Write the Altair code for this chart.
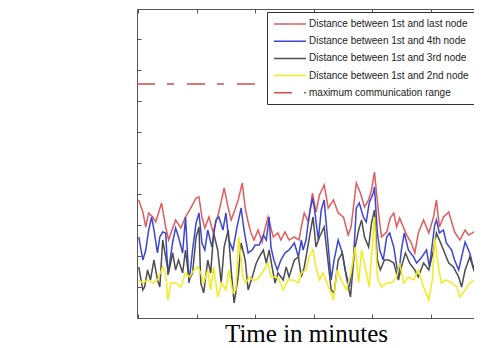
import altair as alt
import pandas as pd

# ---- data (time in minutes, distance in m) ----
series = [
    "Distance between 1st and last node",
    "Distance between 1st and 4th node",
    "Distance between 1st and 3rd node",
    "Distance between 1st and 2nd node",
    "maximum communication range",
]
colors = ["#e05c5c", "#3c46d2", "#4c4c4c", "#f2ec1c", "#d84848"]
dashes = [[1, 0], [1, 0], [1, 0], [1, 0], [18, 12, 7, 13]]

last_t = [0.1, 0.8, 1.3, 1.8, 2.5, 3.0, 4.0, 4.7, 5.2, 5.9, 6.4, 7.3, 8.1, 9.0, 9.9, 10.4, 10.9, 11.4, 12.1, 12.8,
          13.3, 13.8, 14.7, 15.4, 15.9, 16.4, 17.1, 17.8, 18.3, 18.8, 19.3, 19.8, 20.5, 21.2, 21.5, 22.2, 23.1, 23.9, 24.4, 25.1,
          25.8, 26.7, 27.5, 27.9, 28.4, 29.1, 29.8, 30.4, 31.0, 31.8, 32.5, 33.4, 34.2, 35.1, 35.9, 36.4, 37.3, 38.0, 38.7, 39.4,
          39.9, 40.4, 41.1, 41.6, 42.5, 43.1, 43.7, 44.2, 44.7, 45.4, 45.9, 46.7, 47.3, 47.9, 48.8, 49.7, 50.5, 51.0, 51.5, 52.2,
          53.1, 53.6, 54.1, 55.0, 55.9, 56.5, 57.4, 58.2, 59.1]
last_d = [118, 106, 91, 105, 101, 96, 115, 91, 78, 90, 98, 90, 101, 110, 120, 121, 101, 90, 101, 86,
          96, 106, 130, 110, 98, 106, 118, 135, 110, 96, 85, 78, 88, 76, 85, 101, 81, 85, 78, 86,
          78, 81, 78, 91, 105, 96, 125, 106, 123, 133, 110, 118, 105, 101, 83, 91, 135, 125, 111, 118,
          128, 146, 105, 81, 86, 100, 105, 91, 100, 90, 83, 75, 65, 85, 98, 85, 101, 118, 91, 101,
          106, 96, 86, 78, 88, 83, 86, 90, 125]

fourth_t = [0.1, 0.8, 1.3, 1.8, 2.3, 2.7, 3.3, 3.7, 4.2, 4.7, 5.1, 5.9, 6.4, 6.9, 7.6, 8.1, 8.7, 9.3, 9.9, 10.4,
            10.9, 11.4, 11.9, 12.6, 13.3, 13.8, 14.5, 15.0, 15.5, 16.2, 16.9, 17.6, 18.1, 18.8, 19.5, 20.0, 20.7, 21.4, 21.9, 22.4,
            22.7, 23.2, 23.8, 24.4, 25.1, 25.8, 26.7, 27.4, 27.9, 28.2, 28.7, 29.2, 29.8, 30.1, 30.8, 31.3, 31.8, 32.3, 33.0, 33.5,
            34.2, 34.9, 35.4, 36.1, 36.8, 37.3, 37.8, 38.5, 39.0, 39.5, 40.2, 40.4, 40.9, 41.3, 41.9, 42.5, 43.0, 43.7, 44.5, 45.0,
            45.5, 46.2, 47.1, 47.6, 48.5, 49.3, 49.8, 50.7, 51.0, 51.5, 52.2, 52.7, 53.6, 54.1, 54.8, 55.3, 55.9, 56.7, 57.4, 57.9,
            58.7]
fourth_d = [81, 58, 68, 88, 101, 88, 65, 81, 86, 85, 43, 76, 90, 81, 65, 101, 35, 68, 95, 105,
            75, 68, 88, 71, 98, 101, 88, 105, 78, 68, 91, 110, 88, 65, 68, 73, 73, 83, 78, 101,
            71, 58, 48, 58, 65, 68, 75, 61, 78, 68, 78, 101, 120, 111, 78, 108, 118, 85, 38, 58,
            78, 65, 48, 31, 58, 110, 115, 101, 96, 115, 125, 131, 85, 68, 58, 81, 85, 71, 41, 68,
            85, 68, 61, 55, 61, 68, 51, 93, 98, 85, 88, 75, 68, 58, 48, 61, 76, 65, 48, 68,
            88]

third_t = [0.1, 0.8, 1.1, 1.6, 2.1, 2.7, 3.3, 3.7, 4.2, 4.7, 5.2, 5.9, 6.4, 6.9, 7.6, 8.1, 8.7, 9.3, 9.9, 10.4,
           10.7, 11.2, 11.9, 12.4, 12.9, 13.6, 14.2, 14.7, 15.4, 15.9, 16.4, 17.1, 17.6, 18.3, 18.8, 19.5, 20.2, 20.7, 21.4, 21.9,
           22.4, 22.9, 23.4, 23.9, 24.8, 25.3, 25.8, 26.7, 27.4, 27.9, 28.4, 28.7, 29.2, 29.9, 30.4, 31.0, 31.8, 32.3, 33.0, 33.5,
           34.2, 34.9, 35.6, 36.3, 37.0, 37.7, 38.2, 38.7, 39.4, 39.9, 40.4, 40.9, 41.4, 42.1, 42.8, 43.7, 44.5, 45.0, 45.7, 46.4,
           47.3, 47.9, 48.8, 49.7, 50.5, 51.0, 51.5, 52.2, 53.1, 53.9, 54.8, 55.3, 55.9, 56.7, 57.4, 58.1, 58.7]
third_d = [51, 28, 31, 48, 38, 58, 38, 31, 78, 61, 45, 65, 48, 58, 45, 68, 38, 45, 81, 91,
           35, 25, 58, 45, 85, 68, 35, 71, 88, 48, 15, 41, 75, 58, 28, 41, 55, 61, 68, 55,
           68, 51, 35, 45, 38, 51, 41, 58, 61, 41, 51, 61, 78, 101, 71, 81, 91, 65, 28, 25,
           58, 65, 41, 21, 68, 88, 98, 81, 71, 95, 108, 58, 48, 58, 58, 55, 38, 51, 65, 55,
           48, 41, 55, 48, 68, 85, 78, 68, 55, 51, 41, 31, 48, 61, 48, 35, 21]

second_t = [0.1, 0.8, 1.6, 2.5, 3.3, 4.2, 4.7, 5.1, 5.6, 6.4, 7.3, 8.1, 8.8, 9.5, 10.2, 10.7, 11.2, 11.9, 12.4, 12.9,
            13.6, 14.3, 15.0, 15.5, 16.2, 16.7, 17.2, 17.9, 18.4, 19.0, 19.6, 20.2, 20.7, 21.5, 22.2, 22.7, 23.6, 24.1, 24.8, 25.6,
            26.5, 27.4, 27.9, 28.7, 29.2, 29.9, 30.4, 31.0, 31.6, 32.3, 33.4, 34.0, 34.7, 35.6, 36.4, 37.1, 37.7, 38.2, 38.8, 39.5,
            40.4, 40.9, 41.6, 42.5, 43.3, 44.2, 44.7, 45.4, 46.2, 47.1, 47.9, 48.8, 49.7, 50.3, 50.7, 51.4, 51.9, 52.7, 53.6, 54.5,
            55.0, 55.9, 56.7, 57.5, 58.4]
second_d = [38, 35, 38, 35, 38, 51, 45, 18, 35, 35, 31, 45, 41, 48, 51, 45, 35, 48, 28, 51,
            21, 35, 28, 48, 25, 28, 81, 41, 35, 41, 38, 38, 41, 48, 55, 41, 41, 38, 28, 38,
            38, 35, 45, 48, 61, 68, 51, 38, 45, 35, 18, 48, 38, 28, 45, 71, 35, 68, 51, 31,
            101, 41, 31, 35, 35, 41, 55, 35, 41, 38, 48, 31, 18, 38, 81, 48, 35, 38, 35, 31,
            21, 28, 35, 38, 41]

range_t = [-0.2, 59.13]
range_d = [234, 234]

x_ticks = [0, 10, 20, 30, 40, 50]
y_ticks = [31, 62, 93, 124, 155, 186, 217, 248, 279]

rows = []
for name, ts, ds in zip(series,
                        [last_t, fourth_t, third_t, second_t, range_t],
                        [last_d, fourth_d, third_d, second_d, range_d]):
    assert len(ts) == len(ds), name
    rows += [{"series": name, "t": t, "d": d} for t, d in zip(ts, ds)]
df = pd.DataFrame(rows)
df_top = pd.DataFrame({"t": range_t})

x_scale = alt.Scale(domain=[-0.2, 59.13], nice=False, zero=False)
y_scale = alt.Scale(domain=[0, 309], nice=False, zero=False)

# negative offsets pull each axis inside the frame so its ticks point inward
lines = alt.Chart(df).mark_line(strokeWidth=1.5, clip=True).encode(
    x=alt.X("t:Q", scale=x_scale,
            axis=alt.Axis(orient="bottom", values=x_ticks, labels=False, domain=False, grid=False,
                          tickColor="#555555", tickSize=4, offset=-4,
                          title="Time in minutes", titleFont="Liberation Serif", titleFontSize=25,
                          titleFontWeight="normal", titleColor="black", titleX=169, titleY=27,
                          titleBaseline="alphabetic", titleAlign="center")),
    y=alt.Y("d:Q", scale=y_scale,
            axis=alt.Axis(values=y_ticks, labels=False, domain=False, grid=False, title=None,
                          tickColor="#555555", tickSize=4, offset=-4)),
    color=alt.Color("series:N", scale=alt.Scale(domain=series, range=colors), sort=series,
                    legend=alt.Legend(title=None)),
    strokeDash=alt.StrokeDash("series:N", scale=alt.Scale(domain=series, range=dashes), sort=series,
                              legend=alt.Legend(title=None)),
)

top = alt.Chart(df_top).mark_rule(opacity=0).encode(
    x=alt.X("t:Q", scale=x_scale,
            axis=alt.Axis(orient="top", values=x_ticks, labels=False, domain=False, grid=False,
                          title=None, tickColor="#555555", tickSize=4, offset=-4)),
)

chart = alt.layer(lines, top).resolve_axis(x="independent").properties(
    width=347, height=309,
    padding={"left": 129, "top": 1, "right": -10, "bottom": 29},
    autosize=alt.AutoSizeParams(type="none"),
).configure_view(
    stroke="#555555", strokeWidth=1
).configure_legend(
    orient="none", legendX=130, legendY=3, padding=6,
    strokeColor="#333333", fillColor="white",
    symbolType="M-3.2,0H3.2", symbolSize=100, symbolStrokeWidth=1.5,
    symbolOffset=11, labelOffset=13, rowPadding=6.2,
    labelFont="Liberation Sans", labelFontSize=10, labelColor="#222222", labelLimit=400,
)

chart.save("out.html", embed_options={"renderer": "svg", "actions": False})
